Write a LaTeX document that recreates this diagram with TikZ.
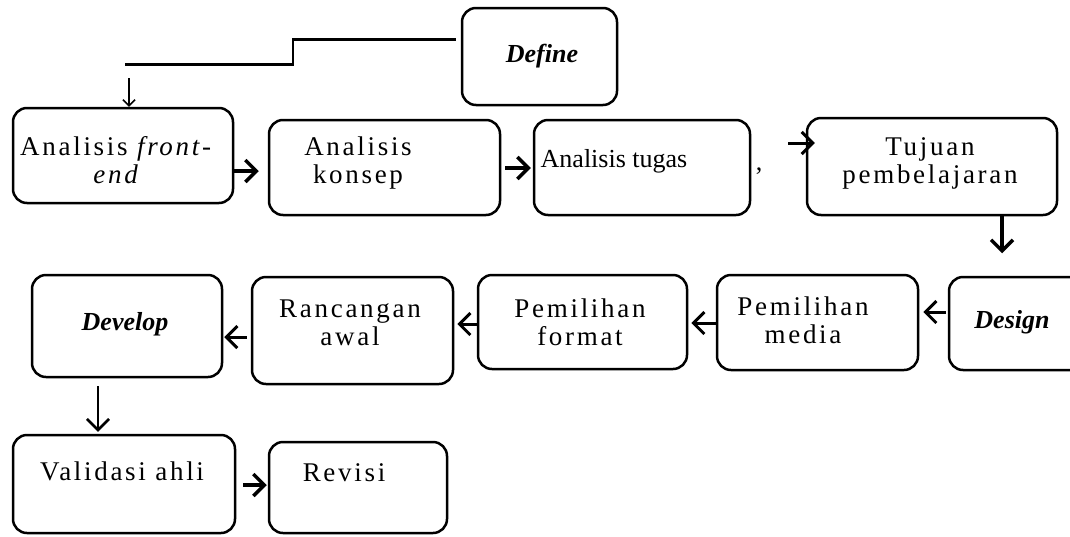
\documentclass[tikz,border=0pt]{standalone}
\usepackage{fontspec}
\setmainfont{Liberation Serif}
\usetikzlibrary{arrows.meta}

\tikzset{
    box/.style={draw, line width=2.5pt, rounded corners=14pt, inner sep=0pt},
    txt/.style={font=\fontsize{27}{28}\selectfont\addfontfeature{LetterSpace=10},
        align=center, inner sep=0pt, anchor=base},
    txtplain/.style={font=\fontsize{26}{28}\selectfont\addfontfeature{LetterSpace=0},
        inner sep=0pt, anchor=base},
    phase/.style={font=\fontsize{26}{30}\selectfont\bfseries\itshape, inner sep=0pt, anchor=base},
    arr/.style={line width=3.5pt, -{Straight Barb[length=11pt,width=22pt]}},
    thinarr/.style={line width=1.5pt, -{Straight Barb[length=6pt,width=12pt]}},
    link/.style={line width=2.5pt}
}

\begin{document}
\begin{tikzpicture}[x=1pt,y=-1pt]
\useasboundingbox (0,0) rectangle (1070,536);
\clip (0,0) rectangle (1070,536);

% Define
\node[box, minimum width=155pt, minimum height=97pt] (define) at (539.5,56.5) {};
\node[phase] (defineT) at (542,62) {Define};

% Row 1 (two-line texts sit on their last baseline)
\node[box, minimum width=220pt, minimum height=95pt] (front) at (123,155.5) {};
\node[box, minimum width=231pt, minimum height=95pt] (konsep) at (384.5,167.5) {};
\node[box, minimum width=216pt, minimum height=95pt] (tugas) at (642,167.5) {};
\node[box, minimum width=250pt, minimum height=97pt] (tujuan) at (932,166.5) {};
\node[txt] (frontT) at (117,183) {Analisis \textit{front-}\\\textit{end}};
\node[txt] (konsepT) at (358,183) {Analisis\\konsep};
\node[txtplain] (tugasT) at (614,167) {Analisis tugas};
\node[txtplain] (tick) at (759,170) {,};
\node[txt] (tujuanT) at (930,183) {Tujuan\\pembelajaran};

% Row 2
\node[box, minimum width=136pt, minimum height=93pt] (design) at (1017,323.5) {};
\node[box, minimum width=201pt, minimum height=95pt] (media) at (817.5,322.5) {};
\node[box, minimum width=209pt, minimum height=94pt] (format) at (582.5,322) {};
\node[box, minimum width=201pt, minimum height=107pt] (rancang) at (352.5,330.5) {};
\node[box, minimum width=190pt, minimum height=102pt] (develop) at (127,326) {};
\node[phase] (designT) at (1012,328) {Design};
\node[txt] (mediaT) at (803,343) {Pemilihan\\media};
\node[txt] (formatT) at (580,345) {Pemilihan\\format};
\node[txt] (rancangT) at (350,345) {Rancangan\\awal};
\node[phase] (developT) at (125,330) {Develop};

% Row 3
\node[box, minimum width=222pt, minimum height=98pt] (validasi) at (124,484) {};
\node[box, minimum width=178pt, minimum height=91pt] (revisi) at (358,487.5) {};
\node[txt] (validasiT) at (122,480) {Validasi ahli};
\node[txt] (revisiT) at (344,481) {Revisi};

% step line from Define
\coordinate (stepEnd) at (125,64.5);
\draw[link] ([xshift=-5pt,yshift=17pt]define.west) -| (293,64.5) -- (stepEnd);
\coordinate (dropTop) at (129,78);
\draw[thinarr] (dropTop) -- (front.north -| dropTop);

% arrows
\draw[arr, shorten >=9pt] (front.east |- 0,171) -- (konsep.west |- 0,171);
\draw[arr, shorten <=4pt, shorten >=2pt] (konsep.east |- 0,168) -- (tugas.west |- 0,168);
\coordinate (tujIn) at (788,143);
\draw[arr, line width=3pt, shorten >=-9pt] (tujIn) -- (tujuan.west |- tujIn);
\draw[arr] (tujuan.south -| 1002,0) -- ++(0,37);
\draw[arr, line width=3pt, shorten <=2pt, shorten >=4pt] (design.west |- 0,312) -- (media.east |- 0,312);
\draw[arr, line width=3pt, shorten >=3pt] (media.west |- 0,323) -- (format.east |- 0,323);
\draw[arr, line width=3pt, shorten >=3pt] (format.west |- 0,324) -- (rancang.east |- 0,324);
\draw[arr, line width=3pt, shorten <=4pt, shorten >=1pt] (rancang.west |- 0,337) -- (develop.east |- 0,337);
\draw[arr, line width=2.5pt, shorten <=8pt, shorten >=2pt] (develop.south -| 98,0) -- (validasi.north -| 98,0);
\draw[arr, shorten <=7pt, shorten >=1pt] (validasi.east |- 0,485) -- (revisi.west |- 0,485);

\end{tikzpicture}
\end{document}
